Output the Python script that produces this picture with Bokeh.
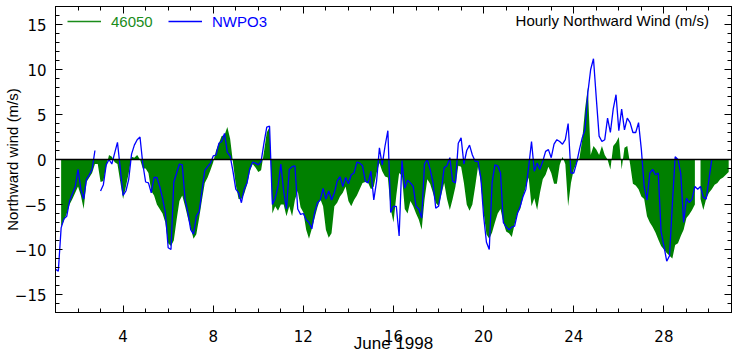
import math
import numpy as np
from bokeh.plotting import figure
from bokeh.models import (Range1d, FixedTicker, LinearAxis, Span, Legend, LegendItem, Label,
                          ColumnDataSource, CustomLabelingPolicy)
from bokeh.embed import file_html
from bokeh.resources import INLINE

nan = float("nan")

# 3-hourly samples, June 1 00:00 to June 30 21:00 (8 per day)
step_hours = 3
series_46050 = [
    -10.0, nan, -7.5, -6.8, -6.0, -5.0, -4.4, -3.7,
    -3.0, -4.0, -5.5, -2.5, -2.0, -1.5, -0.5, -0.5,
    -2.5, -2.4, -0.8, 0.5, 0.3, -0.3, -0.5, -2.5,
    -4.4, -3.0, -1.5, 0.3, 0.2, 0.5, 0.0, -1.0,
    -1.0, -1.5, -3.5, -4.0, -5.0, -5.5, -6.0, -7.0,
    -9.3, -9.6, -9.0, -6.7, -4.6, -4.0, -5.2, -6.5,
    -7.6, -8.8, -8.3, -6.5, -4.5, -2.6, -2.0, -1.2,
    -0.3, 1.0, 1.8, 2.6, 2.7, 3.6, 2.3, -0.3,
    -2.8, -4.4, -4.4, -3.8, -2.8, -1.3, -0.5, -0.9,
    -1.4, -1.2, 0.8, 3.0, 3.6, -6.0, -5.2, -5.7,
    -5.0, -5.0, -6.3, -5.2, -6.3, -4.5, -3.5, -5.3,
    -5.9, -7.8, -8.8, -7.7, -6.5, -5.3, -4.4, -5.2,
    -7.8, -8.7, -8.2, -5.2, -4.8, -4.1, -3.7, -3.0,
    -4.6, -5.2, -4.5, -4.0, -3.3, -2.6, -2.5, -2.6,
    -3.3, -3.0, -1.5, -0.4, -1.3, -1.9, -2.0, -5.5,
    -7.0, -4.0, -1.5, -1.8, -5.5, -6.0, -4.6, -5.2,
    -6.0, -6.7, -7.8, -4.5, -2.2, -2.7, -3.7, -4.8,
    -5.2, -3.9, -2.6, -4.4, -5.6, -4.4, -3.0, -0.7,
    -0.8, -2.6, -5.0, -5.7, -5.0, -3.0, -0.8, -2.5,
    -5.9, -8.3, -8.8, -8.1, -7.0, -6.0, -5.5, -7.0,
    -8.0, -8.2, -8.6, -7.2, -6.0, -5.5, -4.1, -3.0,
    -2.0, -5.2, -4.3, -5.6, -3.7, -2.2, -1.7, -0.8,
    -1.5, -2.7, -2.7, -0.6, 0.3, -0.5, -5.2, -2.6,
    -1.1, -0.4, 0.1, 2.2, 5.6, 8.0, 0.5, 1.5,
    1.1, 0.5, 1.5, 0.5, 0.0, -1.1, 1.5, 1.9,
    2.5, -1.1, 1.3, 1.5, -0.5, -2.7, -2.9, -3.3,
    -4.1, -4.4, -6.3, -7.0, -7.5, -8.1, -8.9, -9.6,
    -10.0, -10.4, -10.7, -11.0, -9.5, -9.3, -8.5, -7.8,
    -6.5, -6.1, -5.6, -5.0, nan, -4.4, -5.6, -4.4,
    -3.7, -3.3, -2.8, -2.6, -2.2, -2.0, -1.7, -1.4,
]
series_nwpo3 = [
    -12.2, -12.4, -7.6, -6.6, -6.3, -4.6, -3.8, -3.0,
    -1.1, -3.3, -4.4, -2.2, -1.7, -1.1, 1.0, nan,
    -3.5, -2.8, -0.6, 0.0, -0.5, 0.7, 1.9, -1.0,
    -4.0, -3.5, -2.2, 0.6, 1.6, 2.2, 2.5, -0.5,
    -2.5, -2.6, -3.7, -2.0, -2.0, -3.0, -4.3, -5.9,
    -9.8, -10.0, -2.5, -1.5, -0.5, -0.6, -4.4, -5.9,
    -7.8, -8.3, -6.3, -5.8, -3.5, -1.2, -0.8, -0.4,
    0.4, 0.5, 1.8, 2.0, 2.9, 0.8, 0.4, -1.3,
    -3.3, -3.7, -4.8, -3.3, -2.6, -1.0, -0.3, -0.4,
    -0.6, -0.2, 1.8, 3.6, 3.7, -5.0, -4.3, -3.0,
    -0.5, -3.5, -5.5, -1.1, -0.8, -0.7, -5.5, -6.1,
    -6.0, -6.7, -7.0, -7.7, -5.9, -4.8, -4.5, -3.2,
    -4.4, -3.5, -4.5, -3.7, -2.4, -1.9, -3.0, -2.0,
    -2.7, -1.7, -1.5, -0.3, -0.4, -0.7, -2.4, -2.6,
    -1.3, -4.5, -2.4, 1.3, -0.6, 1.5, 3.2, -5.9,
    -5.2, -5.2, -8.5, -0.1, -3.2, -2.3, -2.6, -3.0,
    -5.2, -5.5, -6.5, -0.5, 0.0, -1.1, -2.5, -5.4,
    -5.2, -3.4, -0.9, -0.7, 0.2, -2.4, -2.6, 1.8,
    2.4, -0.5, 1.0, 1.6, 0.5, -0.2, -0.2, -2.0,
    -6.3, -9.2, -10.0, -2.6, -0.6, -0.7, -1.5, -7.0,
    -7.5, -7.8, -7.5, -7.4, -6.0, -5.2, -4.1, -3.3,
    -0.8, 2.0, -1.3, -0.4, -1.1, -0.2, 0.9, 1.1,
    0.2, 1.7, 2.2, 2.0, 1.7, 2.2, 4.0, -1.5,
    -1.5, -0.4, 1.1, 2.4, 3.3, 7.4, 10.0, 11.2,
    6.8, 2.6, 2.0, 2.2, 4.6, 3.0, 5.6, 7.2,
    3.2, 5.6, 3.3, 4.6, 4.1, 3.0, 3.0, 4.1,
    1.1, -3.0, -4.5, -1.5, -1.1, -1.7, -1.5, -8.0,
    -9.6, -11.3, -10.7, -5.0, 0.3, 0.0, -1.6, -7.0,
    -4.3, -4.8, -4.4, -3.0, -3.3, -3.0, -4.2, -4.4,
    -2.2, 0.0, nan, nan, nan, nan, nan, nan,
]
x_ticks = [4, 8, 12, 16, 20, 24, 28]
x_minor = list(range(1, 32))
y_ticks = [-15, -10, -5, 0, 5, 10, 15]
y_minor = list(range(-17, 18))

day = 1 + np.arange(len(series_46050)) * step_hours / 24.0
green = "#008000"
legend_green = "#1a8c1a"
blue = "#0000ff"
TICK_FONT = "DejaVu Sans"
FONT = "Liberation Sans"

p = figure(width=739, height=355, output_backend="svg", toolbar_location=None,
           x_range=Range1d(1, 31), y_range=Range1d(-17, 17),
           min_border_left=54, min_border_right=8, min_border_top=6, min_border_bottom=42)
p.xgrid.visible = False
p.ygrid.visible = False
p.outline_line_color = "black"
p.background_fill_color = "white"

# green filled area, split at missing values
g = np.array(series_46050, dtype=float)
start = None
for i in range(len(g) + 1):
    ok = i < len(g) and not math.isnan(g[i])
    if ok and start is None:
        start = i
    elif not ok and start is not None:
        p.varea(x=day[start:i], y1=0, y2=g[start:i], fill_color=green)
        start = None

src_b = ColumnDataSource(dict(x=day, y=series_nwpo3))
p.line("x", "y", source=src_b, line_color=blue, line_width=1.3)

p.add_layout(Span(location=0, dimension="width", line_color="black", line_width=1.5))

def style_axis(ax, labels=True):
    ax.axis_line_color = "black"
    ax.major_tick_line_color = "black"
    ax.minor_tick_line_color = "black"
    ax.major_tick_in = 7
    ax.major_tick_out = 0
    ax.minor_tick_in = 4
    ax.minor_tick_out = 0
    if labels:
        ax.major_label_text_font = TICK_FONT
        ax.major_label_text_font_size = "15px"
        ax.major_label_text_color = "black"
    else:
        ax.major_label_policy = CustomLabelingPolicy(code="return []")
        ax.major_label_standoff = -40

xt = FixedTicker(ticks=x_ticks, minor_ticks=x_minor)
yt = FixedTicker(ticks=y_ticks, minor_ticks=y_minor)
p.xaxis.ticker = xt
p.yaxis.ticker = yt
for ax in p.xaxis + p.yaxis:
    style_axis(ax)
p.xaxis.major_label_standoff = 17
p.yaxis.major_label_standoff = 9
p.yaxis.axis_label = "Northward wind (m/s)"
p.yaxis.axis_label_text_font = FONT
p.yaxis.axis_label_text_font_size = "15px"
p.yaxis.axis_label_text_font_style = "normal"
p.yaxis.axis_label_text_color = "black"
p.yaxis.axis_label_standoff = -9
p.xaxis.axis_label = "June 1998"
p.xaxis.axis_label_text_font = FONT
p.xaxis.axis_label_text_font_size = "17px"
p.xaxis.axis_label_text_font_style = "normal"
p.xaxis.axis_label_text_color = "black"
p.xaxis.axis_label_standoff = -11

top = LinearAxis(ticker=FixedTicker(ticks=x_ticks, minor_ticks=x_minor))
right = LinearAxis(ticker=FixedTicker(ticks=y_ticks, minor_ticks=y_minor))
style_axis(top, labels=False)
style_axis(right, labels=False)
p.add_layout(top, "above")
p.add_layout(right, "right")

# legend (sample lines kept off-range so only their legend glyphs show)
leg_g = p.line([1, 1.1], [100, 100], line_color=legend_green, line_width=1.3)
leg_b = p.line([1, 1.1], [100, 100], line_color=blue, line_width=1.3)
for rend, lab, col, loc in [(leg_g, "46050", legend_green, (12, 281)), (leg_b, "NWPO3", blue, (113, 281))]:
    lg = Legend(items=[LegendItem(label=lab, renderers=[rend])], location=loc,
                orientation="horizontal", border_line_color=None, background_fill_alpha=0,
                padding=0, margin=0, glyph_width=34, glyph_height=20, label_height=20,
                label_standoff=10, label_text_color=col, label_text_font=FONT,
                label_text_font_size="15px")
    p.add_layout(lg)

p.add_layout(Label(x=30.0, y=15.5, text="Hourly Northward Wind (m/s)", text_align="right",
                   text_baseline="alphabetic", text_font=FONT, text_font_size="15px",
                   text_color="black"))

open("out.html", "w").write(file_html(p, INLINE))
